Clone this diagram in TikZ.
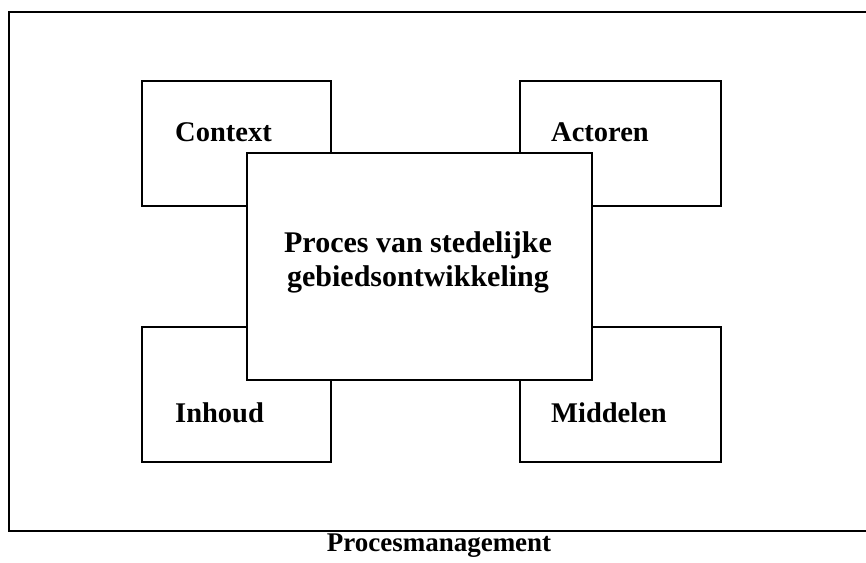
\documentclass[tikz,border=0pt]{standalone}
\usepackage{fontspec}
\setmainfont{Liberation Serif}
\begin{document}
\begin{tikzpicture}[x=1pt,y=-1pt,
  frameline/.style={line width=2.2pt},
  sidebox/.style={draw,line width=2pt,fill=white},
  corebox/.style={draw,line width=2pt,fill=white},
  lbl/.style={font=\fontsize{28.5}{32}\selectfont\bfseries,inner sep=0pt},
]
\useasboundingbox (0,0) rectangle (866,562);
% outer frame, open on the right
\coordinate (fr) at (870,12);
\coordinate (br) at (870,531);
\draw[frameline] (fr) -- (9,12) -- (9,531) -- (br);
% four corner boxes
\draw[sidebox] (142,81) rectangle (331,206) coordinate (ctx);
\draw[sidebox] (520,81) rectangle (721,206) coordinate (act);
\draw[sidebox] (142,327) rectangle (331,462) coordinate (inh);
\draw[sidebox] (520,327) rectangle (721,462) coordinate (mid);
% central box on top
\draw[corebox] (247,153) rectangle (592,380);
\node[lbl,anchor=west] (tctx) at (175,132) {Context};
\node[lbl,anchor=west] (tact) at (551,132) {Actoren};
\node[lbl,anchor=west] (tinh) at (175,413) {Inhoud};
\node[lbl,anchor=west] (tmid) at (551,413) {Middelen};
\node[lbl,align=center,font=\fontsize{30}{34}\selectfont\bfseries] (core) at (418,262) {Proces van stedelijke\\gebiedsontwikkeling};
\node[lbl,font=\fontsize{27}{32}\selectfont\bfseries] (title) at (439,546) {Procesmanagement};
\end{tikzpicture}
\end{document}
